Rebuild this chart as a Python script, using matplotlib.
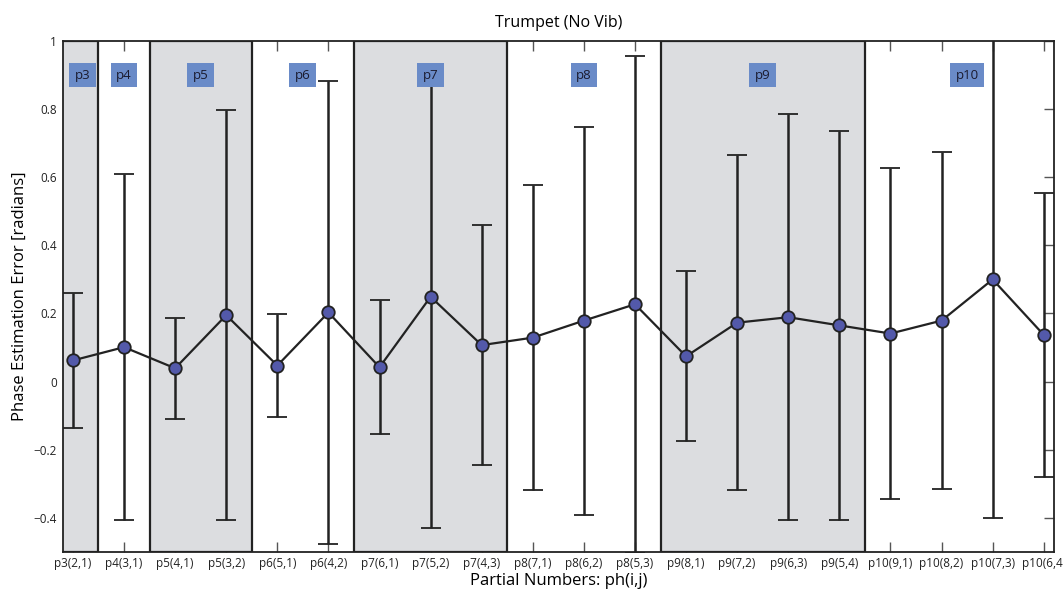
import numpy as np
import matplotlib
matplotlib.use("Agg")
import matplotlib.pyplot as plt

plt.rcParams['font.family'] = ['Open Sans', 'DejaVu Sans']

# x tick labels, one per partial pair
pair_labels = ['p3(2,1)', 'p4(3,1)', 'p5(4,1)', 'p5(3,2)', 'p6(5,1)', 'p6(4,2)',
               'p7(6,1)', 'p7(5,2)', 'p7(4,3)', 'p8(7,1)', 'p8(6,2)', 'p8(5,3)',
               'p9(8,1)', 'p9(7,2)', 'p9(6,3)', 'p9(5,4)',
               'p10(9,1)', 'p10(8,2)', 'p10(7,3)', 'p10(6,4)']

# mean phase error and spread (radians)
mean_err = [0.062, 0.101, 0.039, 0.195, 0.047, 0.203, 0.042, 0.249, 0.107, 0.129,
            0.179, 0.227, 0.074, 0.173, 0.189, 0.165, 0.141, 0.179, 0.300, 0.137]
std_err = [0.199, 0.508, 0.148, 0.603, 0.150, 0.680, 0.197, 0.680, 0.353, 0.447,
           0.570, 0.730, 0.250, 0.493, 0.597, 0.572, 0.485, 0.495, 0.702, 0.416]

# partial groups and how many pairs each holds
groups = ['p3', 'p4', 'p5', 'p6', 'p7', 'p8', 'p9', 'p10']
group_sizes = [1, 1, 2, 2, 3, 3, 4, 4]

x = np.arange(1, len(pair_labels) + 1)

fig = plt.figure(figsize=(10.63, 5.92), dpi=100)
ax = fig.add_axes([0.059, 0.068, 0.9325, 0.8625])
ax.set_xlim(0.8, 20.2)
ax.set_ylim(-0.5, 1.0)

# shaded bands for every other partial group
start = 0.5
for k, (g, n) in enumerate(zip(groups, group_sizes)):
    end = start + n
    if k % 2 == 0:
        ax.axvspan(start, end, facecolor='#dcdde0', edgecolor='#222222',
                   linewidth=1.6, zorder=1)
    cx = (start + end) / 2
    if k == 0:
        cx = 1.19
    ax.text(cx, 0.9, g, ha='center', va='center', fontsize=9.5, color='#1a1a2e',
            zorder=6, bbox=dict(boxstyle='square,pad=0.42', facecolor='#6a8bc8',
                                edgecolor='none'))
    start = end

ax.errorbar(x, mean_err, yerr=std_err, color='#222222', linewidth=1.6,
            elinewidth=1.8, capsize=7.5, capthick=1.8, marker='o', markersize=9,
            markerfacecolor='#5359aa', markeredgecolor='#222222',
            markeredgewidth=1.3, zorder=4)

ax.set_axisbelow(True)
ax.set_xticks(x)
ax.set_xticklabels(pair_labels)
ax.set_yticks([-0.4, -0.2, 0, 0.2, 0.4, 0.6, 0.8, 1.0])
ax.set_yticklabels(['\u22120.4', '\u22120.2', '0', '0.2', '0.4', '0.6', '0.8', '1'])
ax.tick_params(direction='in', length=7, width=1, top=True, right=True,
               labelsize=8.5, colors='#555555', labelcolor='#222222', pad=4)
for s in ax.spines.values():
    s.set_linewidth(1.3)
    s.set_color('#222222')
    s.set_zorder(5)

ax.set_title('Trumpet (No Vib)', fontsize=11.5, pad=10)
ax.set_xlabel('Partial Numbers: ph(i,j)', fontsize=12, labelpad=2)
ax.set_ylabel('Phase Estimation Error [radians]', fontsize=12, labelpad=4)

fig.savefig('out.png', dpi=100)
